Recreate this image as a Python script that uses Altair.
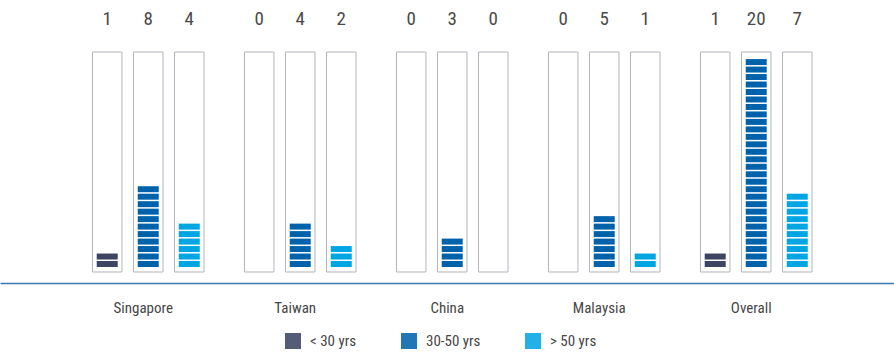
import math

import altair as alt
import pandas as pd

# Headcount by market and age band
countries = ["Singapore", "Taiwan", "China", "Malaysia", "Overall"]
age_groups = ["< 30 yrs", "30-50 yrs", "> 50 yrs"]
under_30 = [1, 0, 0, 0, 1]
age_30_50 = [8, 4, 3, 5, 20]
over_50 = [4, 2, 0, 1, 7]
age_colors = ["#3c4562", "#0062ab", "#00a5e3"]

FONT = "Liberation Sans Narrow, Roboto Condensed, DejaVu Sans Condensed, sans-serif"
TEXT_COLOR = "#464646"

# Each count is drawn as a stack of thin stripes
SEGMENTS_PER_UNIT = 1.4
SEGMENT_FILL = 0.8

# Frame / label placement in value units
Y_DOMAIN = [-1.528, 25.5]
BOX_BOTTOM = -0.477
BOX_TOP = 20.53
NUMBER_Y = 23.65

rows = []
for i, country in enumerate(countries):
    for age, series in zip(age_groups, [under_30, age_30_50, over_50]):
        rows.append({"country": country, "age": age, "count": series[i]})
counts = pd.DataFrame(rows)

stripe_rows = []
for r in rows:
    n = max(0, math.ceil(r["count"] * SEGMENTS_PER_UNIT - 0.25))
    for k in range(n):
        stripe_rows.append({
            "country": r["country"],
            "age": r["age"],
            "y0": k / SEGMENTS_PER_UNIT,
            "y1": (k + SEGMENT_FILL) / SEGMENTS_PER_UNIT,
        })
stripes = pd.DataFrame(stripe_rows)

x_enc = alt.X(
    "country:N",
    sort=countries,
    scale=alt.Scale(paddingInner=0.266, paddingOuter=0.5738, align=0.53),
    axis=alt.Axis(
        title=None,
        ticks=False,
        tickSize=0,
        grid=False,
        domainColor="#3d78b4",
        domainWidth=1.5,
        labelPadding=17,
        labelFontSize=15,
        labelFont=FONT,
        labelColor=TEXT_COLOR,
        labelOffset=-5,
        labelAngle=0,
    ),
)
xo_enc = alt.XOffset(
    "age:N", sort=age_groups, scale=alt.Scale(paddingInner=0.28, paddingOuter=0)
)
y_scale = alt.Scale(domain=Y_DOMAIN, nice=False, zero=False)

base_counts = alt.Chart(counts)

shadow = base_counts.mark_rect(fill="#dddee3", xOffset=1.5, yOffset=1).encode(
    x=x_enc,
    xOffset=xo_enc,
    y=alt.Y(datum=BOX_TOP, type="quantitative", scale=y_scale, axis=None),
    y2=alt.datum(BOX_BOTTOM),
)

frame = base_counts.mark_rect(fill="white", stroke="#b2b4bc", strokeWidth=1).encode(
    x=x_enc,
    xOffset=xo_enc,
    y=alt.Y(datum=BOX_TOP, type="quantitative", scale=y_scale, axis=None),
    y2=alt.datum(BOX_BOTTOM),
)

bars = alt.Chart(stripes).mark_bar(width=21).encode(
    x=x_enc,
    xOffset=xo_enc,
    y=alt.Y("y0:Q", scale=y_scale, axis=None),
    y2="y1:Q",
    color=alt.Color(
        "age:N",
        sort=age_groups,
        scale=alt.Scale(domain=age_groups, range=age_colors),
        legend=alt.Legend(
            title=None,
            orient="none",
            legendX=285,
            legendY=333,
            direction="horizontal",
            symbolType="square",
            symbolSize=256,
            symbolStrokeWidth=0,
            symbolOpacity=0.87,
            labelFontSize=15,
            labelFont=FONT,
            labelColor=TEXT_COLOR,
            labelOffset=9,
            columnPadding=44,
        ),
    ),
)

numbers = base_counts.mark_text(
    fontSize=19, font=FONT, color="#4a4a4a", baseline="middle"
).encode(
    x=x_enc,
    xOffset=xo_enc,
    y=alt.Y(datum=NUMBER_Y, type="quantitative", scale=y_scale, axis=None),
    text="count:Q",
)

chart = (
    alt.layer(shadow, frame, bars, numbers)
    .properties(
        width=894,
        height=283,
        autosize=alt.AutoSizeParams(type="none"),
        padding={"left": 0, "top": 0, "right": 0, "bottom": 74},
        background="white",
    )
    .configure_view(stroke=None)
)

chart.save("out.html", embed_options={"renderer": "svg", "actions": False})
